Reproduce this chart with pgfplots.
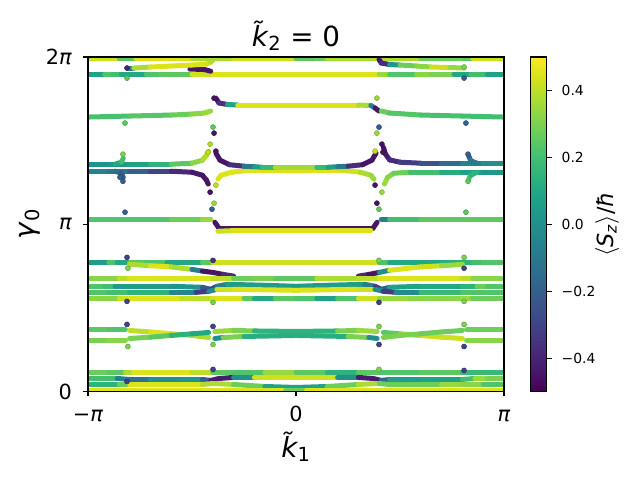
\documentclass[border=0pt]{standalone}
\usepackage{fontspec}
\setmainfont{DejaVu Sans}
\usepackage{pgfplots}
\pgfplotsset{compat=1.18}
\pgfplotsset{
 band/.style={mesh, point meta=explicit, line width=3.6pt, line cap=round, line join=round, mark=none, forget plot},
 dots/.style={scatter, only marks, mark=*, mark size=1.8pt, point meta=explicit, forget plot},
}
\begin{document}
\begin{tikzpicture}
\useasboundingbox (-63.36pt,-63.72pt) rectangle (397.44pt,281.88pt);
\begin{axis}[
 at={(0,0)}, anchor=south west,
 scale only axis, width=299.52pt, height=240.84pt,
 xmin=-1, xmax=1, ymin=0, ymax=2,
 colormap/viridis, point meta min=-0.5, point meta max=0.5,
 xtick={-1,0,1}, xticklabels={−\textit{π},0,\textit{π}},
 ytick={0,1,2}, yticklabels={0,\textit{π},2\textit{π}},
 tick pos=left, tick align=outside, major tick length=3.5pt,
 every tick/.style={black, line width=0.8pt},
 axis line style={line width=0.8pt},
 axis on top,
 xticklabel style={font=\fontsize{15}{18}\selectfont, anchor=base, inner sep=0pt, yshift=-18.4pt},
 yticklabel style={font=\fontsize{15}{18}\selectfont, anchor=east, inner sep=0pt, xshift=-7.9pt},
 every axis title/.style={at={(axis description cs:0.5,1.0315)}, anchor=base, inner sep=0pt, font=\fontsize{20}{24}\selectfont},
 every axis x label/.style={at={(axis description cs:0.5,-0.196)}, anchor=base, inner sep=0pt, font=\fontsize{20}{24}\selectfont},
 every axis y label/.style={at={(axis description cs:-0.1275,0.5)}, rotate=90, anchor=base, inner sep=0pt, font=\fontsize{20}{24}\selectfont},
 title={\textit{k̃}\textsubscript{2} = 0},
 xlabel={\textit{k̃}\textsubscript{1}},
 ylabel={\textit{γ}\textsubscript{0}},
 colorbar,
 colorbar style={
  at={(parent axis.north east)}, anchor=north west, xshift=10.8pt,
  scale only axis, width=11.5pt, height=240.84pt,
  ytick={-0.4,-0.2,0,0.2,0.4},
  yticklabels={−0.4,−0.2,0.0,0.2,0.4},
  ytick pos=right, yticklabel pos=right, tick align=outside, major tick length=3.5pt,
  every tick/.style={black, line width=0.8pt},
  axis line style={line width=0.8pt},
  yticklabel style={font=\fontsize{10}{12}\selectfont, anchor=west, inner sep=0pt, xshift=7pt},
  every axis y label/.style={at={(axis description cs:5.15,0.5)}, rotate=90, anchor=base, inner sep=0pt, font=\fontsize{16}{19}\selectfont},
  ylabel={$\langle$\textit{S}\textsubscript{\textit{z}}$\rangle$/\textit{ħ}},
 },
]
% ---------------- upper region ----------------
\addplot[band] coordinates {(-1,1.994)[0.4] (-0.85,1.994)[0.45] (-0.81,1.994)[0.05] (-0.77,1.994)[0.45] (-0.5,1.994)[0.45] (-0.4,1.994)[0.3] (-0.3,1.994)[0.45] (0,1.994)[0.4] (0.1,1.994)[0.1] (0.15,1.994)[0.45] (0.4,1.994)[0.3] (0.6,1.994)[0.45] (0.81,1.994)[0.1] (0.85,1.994)[0.4] (1,1.994)[0.45]};
\addplot[band] coordinates {(-1,1.898)[0.05] (-0.92,1.898)[0.1] (-0.88,1.898)[0.35] (-0.84,1.898)[0.05] (-0.8,1.898)[0.15] (-0.72,1.898)[0.05] (-0.65,1.898)[0.4] (-0.58,1.898)[0.1] (-0.5,1.898)[0.4] (-0.4,1.898)[0.45] (0,1.898)[0.45] (0.4,1.898)[0.45] (0.45,1.898)[0.25] (0.58,1.898)[0.2] (0.65,1.898)[0.45] (0.76,1.898)[0.15] (0.84,1.898)[0.05] (0.88,1.898)[0.35] (0.92,1.898)[0.05] (1,1.898)[0.1]};
\addplot[band] coordinates {(-0.51,1.928)[-0.45] (-0.44,1.925)[-0.45] (-0.41,1.915)[-0.45]};
\addplot[band] coordinates {(-0.808,1.934)[-0.4] (-0.78,1.934)[0.3] (-0.7,1.940)[0.45] (-0.6,1.946)[0.45] (-0.5,1.952)[0.45] (-0.43,1.958)[0.45] (-0.41,1.970)[0.4] (-0.399,1.982)[0.35]};
\addplot[band] coordinates {(0.399,1.985)[-0.45] (0.41,1.964)[-0.45] (0.45,1.955)[-0.3] (0.5,1.952)[0.35] (0.58,1.946)[0.2] (0.65,1.940)[0.45] (0.74,1.937)[0.4] (0.808,1.934)[0.3]};
% band near 117 px / centre 105 px
\addplot[band] coordinates {(-1,1.641)[0.2] (-0.8,1.647)[0.22] (-0.6,1.653)[0.25] (-0.5,1.659)[0.3] (-0.44,1.665)[0.35] (-0.41,1.677)[0.35]};
\addplot[band] coordinates {(-0.385,1.754)[-0.45] (-0.37,1.725)[-0.45] (-0.33,1.716)[-0.3] (-0.28,1.713)[0.45] (0,1.713)[0.45] (0.3,1.713)[0.45] (0.36,1.710)[0.3] (0.38,1.695)[-0.45] (0.399,1.677)[-0.45]};
\addplot[band] coordinates {(0.41,1.677)[0.3] (0.45,1.665)[0.25] (0.6,1.653)[0.22] (0.8,1.647)[0.2] (1,1.641)[0.2]};
% bands near 164 / 171 px
\addplot[band] coordinates {(-1,1.359)[0.0] (-0.9,1.359)[0.02] (-0.8,1.359)[0.05] (-0.7,1.359)[0.1] (-0.6,1.359)[0.2] (-0.5,1.365)[0.3] (-0.45,1.383)[0.35] (-0.43,1.413)[0.4] (-0.42,1.437)[0.4]};
\addplot[band] coordinates {(-0.87,1.359)[0.05] (-0.84,1.371)[0.15] (-0.83,1.395)[0.25]};
\addplot[band] coordinates {(-1,1.317)[-0.05] (-0.9,1.317)[-0.08] (-0.8,1.317)[-0.15] (-0.7,1.317)[-0.25] (-0.6,1.317)[-0.35] (-0.5,1.311)[-0.42] (-0.45,1.293)[-0.45] (-0.43,1.263)[-0.45] (-0.422,1.24)[-0.45]};
\addplot[band] coordinates {(-0.87,1.317)[-0.1] (-0.84,1.305)[-0.2] (-0.83,1.28)[-0.25]};
\addplot[band] coordinates {(0.42,1.46)[-0.45] (0.43,1.42)[-0.45] (0.45,1.385)[-0.42] (0.5,1.371)[-0.35] (0.6,1.365)[-0.3] (0.7,1.365)[-0.2] (0.8,1.365)[-0.1] (0.9,1.365)[-0.02] (1,1.365)[0.0]};
\addplot[band] coordinates {(0.83,1.41)[-0.2] (0.84,1.38)[-0.15] (0.87,1.365)[-0.05]};
\addplot[band] coordinates {(0.425,1.24)[0.35] (0.44,1.28)[0.35] (0.47,1.305)[0.3] (0.55,1.311)[0.25] (0.7,1.311)[0.15] (0.8,1.311)[0.08] (0.9,1.311)[0.05] (1,1.311)[0.02]};
\addplot[band] coordinates {(0.83,1.27)[0.25] (0.84,1.293)[0.2] (0.87,1.311)[0.1]};
\addplot[band] coordinates {(-0.375,1.269)[0.45] (-0.36,1.293)[0.45] (-0.31,1.311)[0.45] (-0.22,1.323)[0.45] (0,1.323)[0.45] (0.22,1.323)[0.45] (0.31,1.311)[0.4] (0.36,1.293)[0.35] (0.375,1.269)[0.35]};
\addplot[band] coordinates {(-0.385,1.425)[-0.45] (-0.365,1.383)[-0.45] (-0.32,1.356)[-0.45] (-0.25,1.347)[-0.3] (-0.2,1.344)[0.1] (-0.163,1.341)[0.0] (-0.1,1.341)[0.35] (0,1.341)[0.38] (0.1,1.341)[0.35] (0.154,1.341)[0.0] (0.2,1.344)[0.1] (0.25,1.347)[-0.3] (0.32,1.356)[-0.45] (0.365,1.383)[-0.45] (0.385,1.425)[-0.45]};
% band near pi
\addplot[band] coordinates {(-1,1.030)[0.2] (-0.6,1.030)[0.25] (-0.45,1.030)[0.3] (-0.41,1.030)[0.4]};
\addplot[band] coordinates {(-0.39,1.012)[-0.45] (-0.37,0.976)[-0.45] (0,0.976)[-0.45] (0.37,0.976)[-0.45] (0.39,1.012)[-0.45]};
\addplot[band] coordinates {(-0.375,0.958)[0.4] (-0.3,0.962)[0.45] (0,0.962)[0.45] (0.3,0.962)[0.45] (0.36,0.962)[0.45]};
\addplot[band] coordinates {(0.41,1.030)[-0.3] (0.45,1.030)[0.15] (0.6,1.030)[0.25] (1,1.030)[0.25]};
% ---------------- lower region ----------------
\addplot[band] coordinates {(-1,0.772)[0.05] (-0.9,0.772)[0.05] (-0.88,0.772)[0.4] (-0.86,0.772)[0.05] (-0.8,0.772)[0.15] (-0.72,0.772)[0.35] (-0.62,0.772)[0.1] (-0.45,0.772)[0.1] (-0.4,0.772)[0.4] (0,0.772)[0.45] (0.4,0.772)[0.4] (0.45,0.772)[0.05] (0.6,0.772)[0.15] (0.7,0.772)[0.05] (0.8,0.772)[0.2] (0.85,0.772)[0.1] (0.9,0.772)[0.3] (1,0.772)[0.15]};
\addplot[band] coordinates {(-0.8,0.760)[0.3] (-0.7,0.752)[0.45] (-0.6,0.745)[0.45] (-0.5,0.730)[0.3] (-0.45,0.720)[-0.45] (-0.40,0.712)[-0.45] (-0.35,0.700)[-0.45] (-0.3,0.690)[-0.3]};
\addplot[band] coordinates {(0.3,0.690)[-0.3] (0.35,0.700)[-0.45] (0.40,0.712)[-0.45] (0.45,0.725)[0.45] (0.6,0.745)[0.45] (0.7,0.752)[0.4] (0.8,0.760)[0.3]};
\addplot[band] coordinates {(-1,0.677)[0.3] (-0.85,0.677)[0.35] (-0.8,0.677)[0.45] (-0.4,0.677)[0.45] (-0.3,0.677)[0.35] (-0.2,0.677)[0.2] (-0.1,0.677)[0.4] (0,0.677)[0.1] (0.1,0.677)[0.4] (0.3,0.677)[0.35] (0.4,0.677)[0.45] (0.8,0.677)[0.45] (0.85,0.677)[0.35] (1,0.677)[0.3]};
\addplot[band] coordinates {(-1,0.629)[0.1] (-0.92,0.629)[0.35] (-0.87,0.629)[0.05] (-0.8,0.629)[0.05] (-0.6,0.629)[0.05] (-0.45,0.623)[0.0] (-0.41,0.611)[-0.45] (-0.38,0.629)[-0.2] (-0.33,0.641)[0.05] (-0.15,0.635)[0.05] (0,0.629)[0.05] (0.15,0.635)[0.05] (0.33,0.641)[0.05] (0.38,0.629)[-0.2] (0.41,0.611)[-0.45] (0.45,0.623)[0.05] (0.6,0.629)[0.1] (0.8,0.629)[0.1] (0.87,0.629)[0.2] (0.92,0.629)[0.35] (1,0.629)[0.1]};
\addplot[band] coordinates {(-1,0.593)[0.25] (-0.9,0.593)[0.2] (-0.8,0.593)[0.2] (-0.6,0.593)[0.1] (-0.48,0.593)[-0.2] (-0.42,0.599)[-0.45] (-0.38,0.611)[0.4] (-0.3,0.611)[0.45] (0,0.605)[0.45] (0.3,0.611)[0.45] (0.38,0.611)[0.4] (0.42,0.599)[-0.45] (0.48,0.593)[-0.2] (0.6,0.593)[0.15] (0.8,0.593)[0.2] (1,0.593)[0.25]};
\addplot[band] coordinates {(-1,0.557)[0.4] (-0.9,0.557)[0.25] (-0.85,0.557)[0.4] (-0.8,0.557)[0.45] (-0.55,0.557)[0.45] (-0.45,0.557)[0.35] (-0.4,0.557)[0.45] (-0.25,0.557)[0.45] (-0.2,0.557)[0.05] (-0.1,0.557)[0.15] (0,0.557)[0.35] (0.1,0.557)[0.1] (0.2,0.557)[0.05] (0.3,0.557)[0.4] (0.4,0.557)[0.45] (0.55,0.557)[0.25] (0.8,0.557)[0.4] (0.85,0.557)[0.3] (0.9,0.557)[0.25] (1,0.557)[0.3]};
% group near 330-340 px
\addplot[band] coordinates {(-1,0.371)[0.3] (-0.9,0.371)[0.2] (-0.82,0.371)[0.25]};
\addplot[band] coordinates {(-1,0.305)[0.25] (-0.9,0.305)[0.35] (-0.82,0.305)[0.3]};
\addplot[band] coordinates {(-0.8,0.365)[0.35] (-0.7,0.356)[0.45] (-0.6,0.345)[0.45] (-0.5,0.335)[0.4] (-0.42,0.323)[0.35]};
\addplot[band] coordinates {(-0.8,0.317)[0.3] (-0.7,0.325)[0.3] (-0.6,0.335)[0.2] (-0.5,0.345)[0.1] (-0.42,0.353)[0.1]};
\addplot[band] coordinates {(-0.39,0.359)[0.3] (-0.3,0.365)[0.4] (-0.2,0.362)[0.2] (0,0.359)[0.1] (0.2,0.362)[0.2] (0.3,0.365)[0.4] (0.39,0.359)[0.3]};
\addplot[band] coordinates {(-0.39,0.317)[-0.4] (-0.35,0.323)[0.4] (-0.25,0.329)[0.2] (0,0.335)[0.05] (0.25,0.329)[0.2] (0.35,0.323)[0.4] (0.39,0.317)[-0.4]};
\addplot[band] coordinates {(0.42,0.353)[0.2] (0.5,0.345)[0.3] (0.6,0.335)[0.4] (0.7,0.325)[0.45] (0.8,0.317)[0.4]};
\addplot[band] coordinates {(0.42,0.323)[0.3] (0.5,0.335)[0.3] (0.6,0.345)[0.3] (0.7,0.356)[0.25] (0.8,0.365)[0.3]};
\addplot[band] coordinates {(0.82,0.371)[0.3] (0.9,0.371)[0.25] (1,0.371)[0.3]};
\addplot[band] coordinates {(0.82,0.305)[0.3] (0.9,0.305)[0.35] (1,0.305)[0.3]};
% group near 0
\addplot[band] coordinates {(-1,0.114)[0.35] (-0.9,0.114)[0.2] (-0.82,0.114)[0.3] (-0.78,0.114)[0.45] (-0.5,0.114)[0.45] (-0.4,0.114)[0.35] (-0.3,0.114)[0.15] (-0.15,0.114)[0.3] (0,0.114)[0.4] (0.15,0.114)[0.1] (0.3,0.114)[0.2] (0.4,0.114)[0.3] (0.5,0.114)[0.15] (0.6,0.114)[0.3] (0.8,0.114)[0.2] (0.9,0.114)[0.15] (1,0.114)[0.2]};
\addplot[band] coordinates {(-1,0.078)[0.05] (-0.92,0.078)[0.35] (-0.86,0.078)[0.05] (-0.8,0.072)[-0.2] (-0.7,0.072)[-0.05] (-0.55,0.072)[0.05] (-0.45,0.072)[0.0] (-0.41,0.066)[-0.4] (-0.37,0.078)[-0.45] (-0.3,0.084)[-0.4] (-0.2,0.084)[0.4] (0,0.084)[0.45] (0.2,0.084)[0.4] (0.3,0.084)[-0.4] (0.37,0.078)[-0.45] (0.41,0.066)[-0.4] (0.45,0.072)[0.05] (0.6,0.072)[0.05] (0.8,0.072)[0.1] (0.86,0.078)[0.3] (0.92,0.078)[0.4] (1,0.078)[0.2]};
\addplot[band] coordinates {(-1,0.042)[0.2] (-0.85,0.042)[0.1] (-0.8,0.042)[0.45] (-0.45,0.042)[0.45] (-0.4,0.048)[0.3] (-0.3,0.042)[0.45] (-0.15,0.030)[0.1] (0,0.024)[0.05] (0.15,0.030)[0.1] (0.3,0.042)[0.45] (0.4,0.048)[0.3] (0.45,0.042)[0.25] (0.7,0.042)[0.3] (0.8,0.042)[0.4] (0.9,0.042)[0.25] (1,0.042)[0.2]};
\addplot[band] coordinates {(-1,0.006)[0.45] (-0.5,0.006)[0.45] (-0.05,0.006)[0.45] (0,0.006)[0.1] (0.05,0.006)[0.45] (0.5,0.006)[0.45] (1,0.006)[0.45]};
% ---------------- isolated points ----------------
\addplot[dots] coordinates {
(-0.8125,1.934)[-0.4] (-0.8125,1.874)[0.25] (-0.822,1.605)[0.25] (-0.832,1.419)[0.3] (-0.846,1.281)[-0.2] (-0.832,1.257)[-0.2] (-0.822,1.072)[-0.2]
(-0.394,1.754)[-0.45] (-0.399,1.581)[0.25] (-0.394,1.545)[-0.45] (-0.413,1.479)[0.38] (-0.423,1.431)[0.4] (-0.385,1.437)[-0.45] (-0.385,1.234)[0.4] (-0.413,1.192)[-0.45] (-0.394,1.126)[0.35] (-0.404,1.090)[-0.2]
(0.389,1.754)[0.35] (0.399,1.581)[-0.2] (0.389,1.545)[0.35] (0.413,1.479)[-0.45] (0.38,1.437)[0.4] (0.418,1.431)[-0.45] (0.38,1.234)[-0.45] (0.413,1.192)[0.35] (0.389,1.126)[-0.45] (0.399,1.090)[0.25]
(0.808,1.940)[0.3] (0.808,1.874)[-0.2] (0.817,1.605)[-0.2] (0.827,1.419)[-0.2] (0.827,1.257)[0.25] (0.817,1.072)[0.25]
(-0.8125,0.802)[-0.3] (-0.808,0.737)[0.3] (-0.8125,0.539)[-0.3] (-0.8125,0.401)[-0.3] (-0.808,0.269)[0.3] (-0.8125,0.060)[-0.3]
(-0.399,0.784)[-0.35] (-0.399,0.533)[0.3] (-0.399,0.389)[-0.3] (-0.399,0.281)[0.3] (-0.399,0.132)[-0.3]
(0.399,0.784)[0.3] (0.399,0.533)[-0.3] (0.399,0.389)[0.3] (0.399,0.281)[-0.3] (0.399,0.132)[0.3]
(0.808,0.802)[0.3] (0.808,0.737)[-0.3] (0.808,0.539)[0.3] (0.808,0.401)[0.3] (0.808,0.269)[-0.3] (0.808,0.126)[-0.3]
};
\end{axis}
\end{tikzpicture}
\end{document}
